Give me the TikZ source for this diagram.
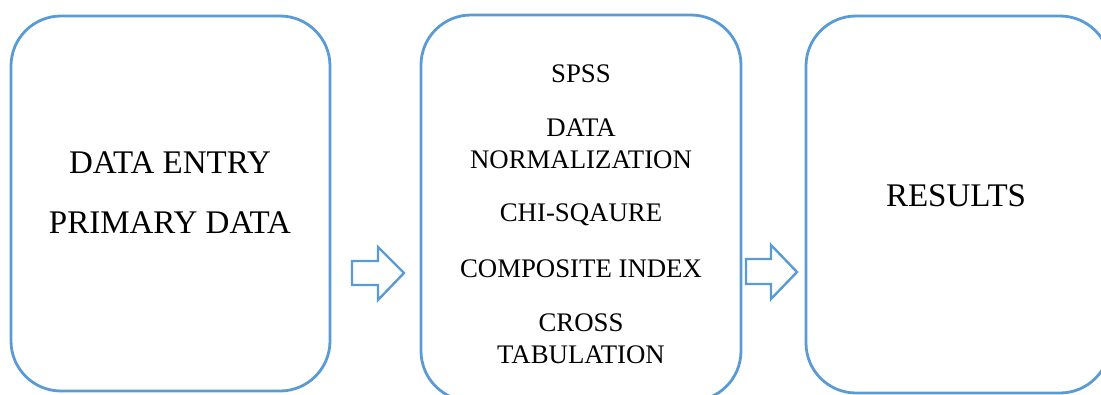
\documentclass[tikz,border=0pt]{standalone}
\usepackage{fontspec}
\setmainfont{Liberation Serif}
\begin{document}
\begin{tikzpicture}[x=1pt,y=-1pt,
  stage/.style={draw=boxblue, line width=2.8pt, rounded corners=50pt},
  blockarrow/.style={draw=boxblue, line width=2.4pt, fill=white, line join=miter},
  bigtext/.style={font=\fontsize{33}{38}\selectfont, inner sep=0pt, anchor=center},
  smalltext/.style={font=\fontsize{26.8}{32}\selectfont, inner sep=0pt, anchor=center, align=center}
]
\definecolor{boxblue}{HTML}{5B9BD5}
\useasboundingbox (0,0) rectangle (1101,394);
\clip (0,0) rectangle (1101,394);

% stage boxes
\draw[stage] (11,16) rectangle (330,391);
\draw[stage] (421,15) rectangle (741,401);
\draw[stage] (806,16) rectangle (1110,393);

% left box text
\node[bigtext] (entry) at (170,163) {DATA ENTRY};
\node[bigtext] (primary) at (170,223) {PRIMARY DATA};

% middle box text
\node[smalltext] (spss) at (581,74) {SPSS};
\node[smalltext] (norm) at (581,144) {DATA\\NORMALIZATION};
\node[smalltext] (chi) at (581,215) {CHI-SQAURE};
\node[smalltext] (comp) at (581,269) {COMPOSITE INDEX};
\node[smalltext] (cross) at (581,339) {CROSS\\TABULATION};

% right box text
\node[bigtext] (results) at (956,196) {RESULTS};

% block arrows between the stages
\draw[blockarrow] (352,261) -- (378,261) -- (378,247) -- (404,273) -- (378,300)
  -- (378,285) -- (352,285) -- cycle;
\draw[blockarrow] (746,259) -- (771,259) -- (771,245) -- (797,272) -- (771,299)
  -- (771,284) -- (746,284) -- cycle;
\end{tikzpicture}
\end{document}
